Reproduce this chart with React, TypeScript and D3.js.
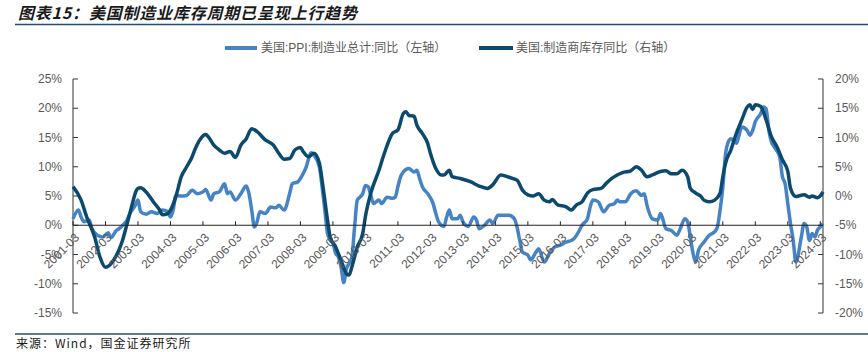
import React from "react";
import * as d3 from "d3";

const TITLE = "图表15：美国制造业库存周期已呈现上行趋势";
const SOURCE = "来源：Wind，国金证券研究所";
const PPI_NAME = "美国:PPI:制造业总计:同比（左轴）";
const INV_NAME = "美国:制造商库存同比（右轴）";

const leftTicks = [25, 20, 15, 10, 5, 0, -5, -10, -15];
const rightTicks = [20, 15, 10, 5, 0, -5, -10, -15, -20];
const yearLabels = [
  "2001-03", "2002-03", "2003-03", "2004-03", "2005-03", "2006-03", "2007-03", "2008-03",
  "2009-03", "2010-03", "2011-03", "2012-03", "2013-03", "2014-03", "2015-03", "2016-03",
  "2017-03", "2018-03", "2019-03", "2020-03", "2021-03", "2022-03", "2023-03", "2024-03",
];

// 美国:PPI:制造业总计:同比 (left axis, %)
const ppiSeries: [string, number][] = [
  ["2001-03", 1.1], ["2001-05", 2.6], ["2001-06", 1.4], ["2001-07", 0.6], ["2001-09", 0.9],
  ["2001-10", -0.6], ["2001-12", -1.7], ["2002-02", -2.0], ["2002-04", -1.3], ["2002-05", -2.1],
  ["2002-07", -0.9], ["2002-08", -0.6], ["2002-10", 0.3], ["2002-11", 0.9], ["2002-12", 2.0],
  ["2003-02", 3.4], ["2003-03", 4.3], ["2003-04", 2.3], ["2003-06", 1.9], ["2003-08", 2.3],
  ["2003-10", 2.0], ["2003-12", 2.6], ["2004-02", 2.3], ["2004-03", 1.4], ["2004-04", 2.6],
  ["2004-05", 5.1], ["2004-07", 5.0], ["2004-09", 5.1], ["2004-11", 6.0], ["2005-01", 5.4],
  ["2005-03", 5.7], ["2005-04", 6.1], ["2005-06", 4.3], ["2005-07", 5.4], ["2005-09", 5.7],
  ["2005-11", 7.1], ["2005-12", 5.4], ["2006-01", 5.7], ["2006-03", 4.3], ["2006-05", 5.4],
  ["2006-07", 6.7], ["2006-08", 5.4], ["2006-09", 2.6], ["2006-10", -0.3], ["2006-11", 0.6],
  ["2006-12", 2.3], ["2007-02", 2.0], ["2007-04", 3.1], ["2007-06", 3.0], ["2007-07", 3.4],
  ["2007-09", 2.6], ["2007-11", 5.4], ["2007-12", 7.1], ["2008-02", 7.4], ["2008-03", 8.0],
  ["2008-05", 9.8], ["2008-07", 12.4], ["2008-08", 12.0], ["2008-10", 10.0], ["2008-11", 6.6],
  ["2008-12", 2.6], ["2009-01", -1.4], ["2009-02", -2.6], ["2009-03", -3.1], ["2009-04", -4.8],
  ["2009-05", -5.4], ["2009-06", -7.1], ["2009-07", -9.8], ["2009-08", -7.4], ["2009-09", -6.5],
  ["2009-10", -5.4], ["2009-11", -0.3], ["2009-12", 4.3], ["2010-01", 4.8], ["2010-02", 5.4],
  ["2010-03", 6.8], ["2010-04", 6.6], ["2010-05", 5.1], ["2010-06", 3.7], ["2010-08", 4.3],
  ["2010-09", 3.7], ["2010-11", 4.8], ["2011-01", 4.6], ["2011-02", 4.8], ["2011-03", 6.6],
  ["2011-04", 8.3], ["2011-05", 9.1], ["2011-07", 9.7], ["2011-09", 9.1], ["2011-10", 9.4],
  ["2011-11", 8.0], ["2011-12", 6.6], ["2012-02", 5.4], ["2012-04", 3.7], ["2012-05", 2.0],
  ["2012-06", 0.6], ["2012-08", -0.2], ["2012-09", 1.4], ["2012-10", 2.6], ["2012-11", 1.1],
  ["2013-01", 1.1], ["2013-02", 1.7], ["2013-03", 0.6], ["2013-05", -0.2], ["2013-07", 1.4],
  ["2013-08", 0.9], ["2013-09", -0.6], ["2013-11", 0.0], ["2014-01", 0.9], ["2014-02", 0.3],
  ["2014-04", 1.7], ["2014-06", 1.7], ["2014-08", 1.7], ["2014-10", 1.1], ["2014-11", -0.3],
  ["2014-12", -2.6], ["2015-01", -4.6], ["2015-03", -5.1], ["2015-04", -5.9], ["2015-06", -4.6],
  ["2015-07", -4.0], ["2015-09", -6.3], ["2015-11", -4.8], ["2016-01", -3.7], ["2016-03", -3.4],
  ["2016-05", -2.9], ["2016-07", -2.6], ["2016-08", -2.3], ["2016-10", -0.9], ["2016-11", 0.0],
  ["2017-01", 1.1], ["2017-02", 3.1], ["2017-03", 4.3], ["2017-05", 4.0], ["2017-07", 2.3],
  ["2017-09", 3.4], ["2017-11", 3.7], ["2017-12", 4.3], ["2018-01", 4.0], ["2018-03", 4.0],
  ["2018-05", 5.4], ["2018-07", 5.9], ["2018-09", 5.1], ["2018-10", 5.4], ["2018-11", 3.4],
  ["2019-01", 1.1], ["2019-03", 0.9], ["2019-04", 2.0], ["2019-06", -0.6], ["2019-08", -0.9],
  ["2019-10", -1.7], ["2019-11", -0.9], ["2020-01", 1.1], ["2020-02", 0.6], ["2020-03", -2.0],
  ["2020-04", -4.8], ["2020-05", -6.3], ["2020-06", -4.3], ["2020-08", -2.9], ["2020-10", -1.7],
  ["2020-12", -1.1], ["2021-01", -0.3], ["2021-02", 2.6], ["2021-03", 6.5], ["2021-04", 12.2],
  ["2021-05", 14.2], ["2021-06", 14.8], ["2021-08", 14.0], ["2021-09", 15.4], ["2021-10", 16.8],
  ["2021-12", 16.2], ["2022-01", 15.4], ["2022-02", 16.2], ["2022-03", 17.7], ["2022-05", 19.1],
  ["2022-06", 20.2], ["2022-07", 19.9], ["2022-08", 16.2], ["2022-09", 14.2], ["2022-10", 13.4],
  ["2022-12", 11.7], ["2023-01", 8.3], ["2023-02", 7.1], ["2023-03", 3.7], ["2023-04", 0.3],
  ["2023-05", -2.6], ["2023-06", -6.3], ["2023-08", -2.0], ["2023-09", 0.3], ["2023-10", -0.3],
  ["2023-11", -2.6], ["2023-12", -1.4], ["2024-01", -2.0], ["2024-02", -0.8], ["2024-03", -0.3],
  ["2024-04", 0.3],
];

// 美国:制造商库存同比 (right axis, %)
const invSeries: [string, number][] = [
  ["2001-03", 1.6], ["2001-06", -0.7], ["2001-08", -3.5], ["2001-11", -7.0], ["2002-01", -10.5],
  ["2002-03", -12.2], ["2002-05", -11.6], ["2002-07", -10.2], ["2002-09", -8.0], ["2002-11", -4.7],
  ["2003-01", -1.2], ["2003-02", 0.5], ["2003-03", 1.3], ["2003-04", 1.4], ["2003-06", 0.7],
  ["2003-09", -1.2], ["2003-11", -2.4], ["2003-12", -3.2], ["2004-02", -3.0], ["2004-03", -2.4],
  ["2004-05", -0.1], ["2004-07", 3.3], ["2004-09", 5.0], ["2004-11", 6.7], ["2004-12", 7.9],
  ["2005-02", 9.7], ["2005-04", 10.5], ["2005-05", 10.1], ["2005-07", 8.7], ["2005-09", 7.9],
  ["2005-11", 7.3], ["2006-01", 7.6], ["2006-03", 6.6], ["2006-05", 8.7], ["2006-07", 9.8],
  ["2006-09", 11.5], ["2006-11", 11.0], ["2007-02", 9.6], ["2007-05", 8.7], ["2007-07", 7.3],
  ["2007-09", 6.3], ["2007-11", 6.4], ["2008-01", 7.9], ["2008-03", 8.3], ["2008-04", 7.6],
  ["2008-06", 6.7], ["2008-08", 7.3], ["2008-10", 5.6], ["2008-11", 2.7], ["2008-12", -0.7],
  ["2009-01", -4.1], ["2009-02", -7.0], ["2009-04", -8.7], ["2009-06", -11.0], ["2009-08", -13.3],
  ["2009-09", -13.5], ["2009-10", -12.1], ["2009-12", -8.7], ["2010-02", -6.4], ["2010-03", -3.5],
  ["2010-05", 0.5], ["2010-08", 4.4], ["2010-10", 7.3], ["2011-01", 10.7], ["2011-03", 11.3],
  ["2011-05", 14.1], ["2011-06", 14.4], ["2011-07", 13.8], ["2011-09", 13.6], ["2011-10", 12.1],
  ["2011-12", 10.7], ["2012-02", 9.0], ["2012-03", 7.3], ["2012-05", 4.7], ["2012-07", 3.6],
  ["2012-08", 3.6], ["2012-10", 4.4], ["2012-11", 3.3], ["2013-02", 3.0], ["2013-06", 2.4],
  ["2013-09", 1.7], ["2013-12", 1.3], ["2014-02", 1.9], ["2014-05", 3.6], ["2014-08", 3.2],
  ["2014-11", 2.7], ["2015-01", 1.0], ["2015-03", 0.2], ["2015-05", 0.0], ["2015-07", 0.4],
  ["2015-09", -0.7], ["2015-11", -1.0], ["2015-12", -0.6], ["2016-02", -1.5], ["2016-05", -1.8],
  ["2016-07", -2.4], ["2016-09", -1.5], ["2016-11", -1.0], ["2017-01", 0.5], ["2017-03", 1.1],
  ["2017-06", 1.3], ["2017-08", 2.2], ["2017-10", 3.0], ["2017-12", 3.6], ["2018-02", 4.0],
  ["2018-05", 4.3], ["2018-07", 5.0], ["2018-09", 4.4], ["2018-11", 3.3], ["2019-01", 3.6],
  ["2019-04", 4.2], ["2019-06", 4.3], ["2019-08", 3.8], ["2019-10", 3.8], ["2019-12", 4.4],
  ["2020-02", 3.3], ["2020-03", 1.3], ["2020-05", 0.5], ["2020-07", -0.1], ["2020-08", -0.7],
  ["2020-10", -1.0], ["2020-12", -0.7], ["2021-02", 0.5], ["2021-03", 3.3], ["2021-04", 5.6],
  ["2021-06", 7.9], ["2021-08", 10.7], ["2021-10", 13.0], ["2021-12", 15.2], ["2022-01", 15.6],
  ["2022-02", 14.8], ["2022-03", 15.6], ["2022-05", 15.3], ["2022-07", 13.0], ["2022-09", 10.1],
  ["2022-11", 8.4], ["2023-01", 6.2], ["2023-03", 4.2], ["2023-04", 1.3], ["2023-06", -0.1],
  ["2023-07", 0.0], ["2023-09", 0.2], ["2023-11", -0.2], ["2023-12", 0.0], ["2024-02", -0.3],
  ["2024-04", 0.7],
];

const W = 868;
const H = 352;
const PLOT = { left: 73, right: 823, top: 79, bottom: 313 };
const PPI_COLOR = "#4683C4";
const INV_COLOR = "#0B4A6E";
const TEXT_COLOR = "#595959";
const FONT = "'Liberation Sans', Arial, 'Noto Sans CJK SC', sans-serif";
const CJK = "'Noto Sans CJK SC', sans-serif";

const monthIndex = (s: string) => {
  const [y, m] = s.split("-").map(Number);
  return (y - 2001) * 12 + (m - 3);
};

export default function App() {
  const lastIdx = monthIndex("2024-04");
  const x = d3.scaleLinear().domain([0, lastIdx]).range([PLOT.left, PLOT.right]);
  const yL = d3.scaleLinear().domain([-15, 25]).range([PLOT.bottom, PLOT.top]);
  const yR = d3.scaleLinear().domain([-20, 20]).range([PLOT.bottom, PLOT.top]);

  const linePpi = d3
    .line<[string, number]>()
    .x((d) => x(monthIndex(d[0])))
    .y((d) => yL(d[1]))
    .curve(d3.curveMonotoneX);
  const lineInv = d3
    .line<[string, number]>()
    .x((d) => x(monthIndex(d[0])))
    .y((d) => yR(d[1]))
    .curve(d3.curveMonotoneX);

  const zeroY = yL(0);

  return (
    <div style={{ position: "absolute", left: 0, top: 0, width: W, height: H, background: "#fff" }}>
      <svg width={W} height={H} style={{ display: "block" }}>
        <rect x={0} y={0} width={W} height={H} fill="#fff" />
        {/* title */}
        <text
          x={18}
          y={19}
          fontFamily={CJK}
          fontSize={16}
          fontWeight="bold"
          fontStyle="italic"
          letterSpacing={0.8}
          fill="#1a1a1a"
        >
          {TITLE}
        </text>
        <line x1={15} x2={W} y1={24.5} y2={24.5} stroke="#1F4E79" strokeWidth={1.5} />

        {/* legend */}
        <line x1={225} x2={257} y1={48} y2={48} stroke={PPI_COLOR} strokeWidth={4} />
        <text x={261} y={52} fontFamily={FONT} fontSize={12} fill={TEXT_COLOR}>
          {PPI_NAME}
        </text>
        <line x1={479} x2={513} y1={48} y2={48} stroke={INV_COLOR} strokeWidth={4} />
        <text x={516} y={52} fontFamily={FONT} fontSize={12} fill={TEXT_COLOR}>
          {INV_NAME}
        </text>

        {/* left axis */}
        <line x1={PLOT.left} x2={PLOT.left} y1={PLOT.top} y2={PLOT.bottom} stroke="#333" strokeWidth={1} />
        {leftTicks.map((t) => (
          <g key={"l" + t}>
            <line x1={PLOT.left} x2={PLOT.left + 5} y1={yL(t)} y2={yL(t)} stroke="#333" />
            <text
              x={62}
              y={yL(t)}
              dy="0.35em"
              textAnchor="end"
              fontFamily={FONT}
              fontSize={12}
              fill={TEXT_COLOR}
            >
              {t + "%"}
            </text>
          </g>
        ))}

        {/* right axis */}
        <line x1={PLOT.right} x2={PLOT.right} y1={PLOT.top} y2={PLOT.bottom} stroke="#333" strokeWidth={1} />
        {rightTicks.map((t) => (
          <g key={"r" + t}>
            <line x1={PLOT.right - 5} x2={PLOT.right} y1={yR(t)} y2={yR(t)} stroke="#333" />
            <text
              x={835}
              y={yR(t)}
              dy="0.35em"
              textAnchor="start"
              fontFamily={FONT}
              fontSize={12}
              fill={TEXT_COLOR}
            >
              {t + "%"}
            </text>
          </g>
        ))}

        {/* series */}
        <path d={linePpi(ppiSeries) || ""} fill="none" stroke={PPI_COLOR} strokeWidth={3.5} strokeLinejoin="round" />
        <path d={lineInv(invSeries) || ""} fill="none" stroke={INV_COLOR} strokeWidth={3.5} strokeLinejoin="round" />

        {/* x axis at left 0% */}
        <line x1={PLOT.left} x2={PLOT.right} y1={zeroY} y2={zeroY} stroke="#222" strokeWidth={1.2} />
        {yearLabels.map((lab) => {
          const xx = x(monthIndex(lab));
          return (
            <g key={lab}>
              <line x1={xx} x2={xx} y1={zeroY - 4} y2={zeroY} stroke="#222" />
              <text
                transform={`translate(${xx + 4},${zeroY + 10}) rotate(-45)`}
                textAnchor="end"
                dy="0.35em"
                fontFamily={FONT}
                fontSize={12}
                fill={TEXT_COLOR}
              >
                {lab}
              </text>
            </g>
          );
        })}

        {/* source */}
        <line x1={15} x2={W} y1={334} y2={334} stroke="#1F4E79" strokeWidth={1.5} />
        <text x={16} y={348} fontFamily={CJK} fontSize={12} letterSpacing={1} fill="#1a1a1a">
          {SOURCE}
        </text>
      </svg>
    </div>
  );
}
